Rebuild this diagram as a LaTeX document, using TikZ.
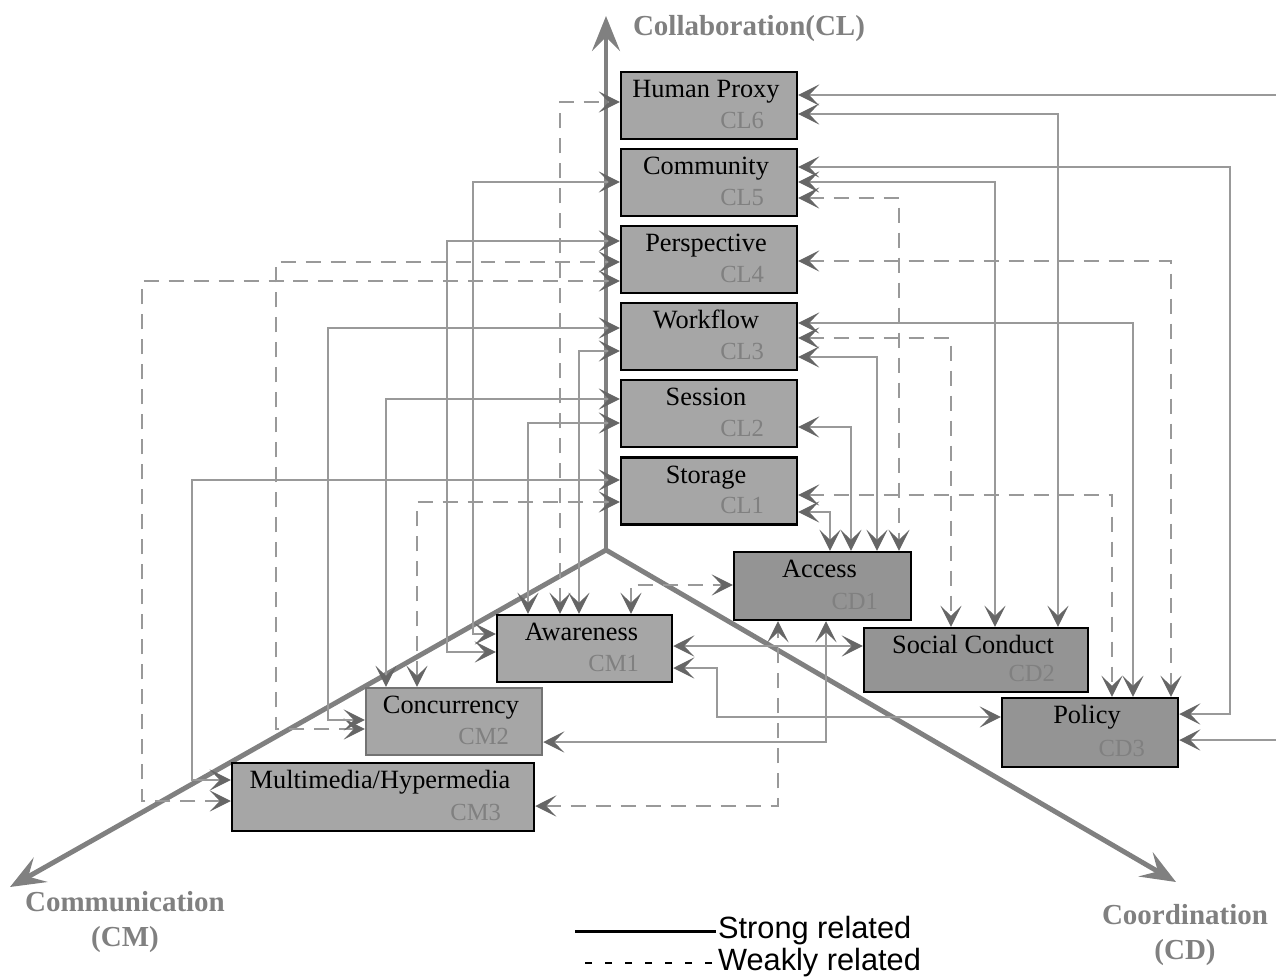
\documentclass[tikz,border=0pt]{standalone}
\usepackage{fontspec}
\setmainfont{Liberation Serif}
\newfontfamily\legfont{Liberation Sans}
\usetikzlibrary{arrows.meta,calc}
\definecolor{boxlt}{gray}{0.65}
\definecolor{boxdk}{gray}{0.58}
\definecolor{edgegr}{gray}{0.45}
\definecolor{lnk}{gray}{0.6}
\definecolor{tipgr}{gray}{0.4}
\definecolor{axgr}{gray}{0.5}
\definecolor{codegr}{gray}{0.5}

\tikzset{
	box/.style={draw, line width=1.4pt, inner sep=0pt},
	ttl/.style={anchor=base, font=\fontsize{15}{17}\selectfont},
	code/.style={anchor=base east, text=codegr, font=\fontsize{14}{16}\selectfont},
	axis/.style={draw=axgr, line width=2.8pt, -{Stealth[length=0.7cm,width=0.56cm,inset=0.28cm]}},
	axlbl/.style={text=axgr, align=center, font=\fontsize{16.5}{20}\selectfont\bfseries},
	link/.style={draw=lnk, line width=0.75pt, <->},
	weak/.style={link, dash pattern=on 0.3cm off 0.2cm},
	legend/.style={anchor=west, inner sep=1pt, font=\legfont\fontsize{17.5}{20}\selectfont}
}

\begin{document}
\begin{tikzpicture}[x=0.02cm, y=-0.02cm, >={Stealth[length=0.42cm,width=0.42cm,inset=0.2cm,color=tipgr]}]
	\useasboundingbox (0,0) rectangle (1276,978);
	\clip (0,0) rectangle (1276,978);
	\coordinate (o) at (606,550);
	\coordinate (clend) at (606,16);
	\coordinate (cmend) at (10,887);
	\coordinate (cdend) at (1176,882);
	\draw[axis] (o) -- (clend);
	\draw[axis] (o) -- (cmend);
	\draw[axis] (o) -- (cdend);
	\node[axlbl] (cllbl) at (749,29) {Collaboration(CL)};
	\node[axlbl] (cmlbl) at (125,922) {Communication\\(CM)};
	\node[axlbl] (cdlbl) at (1185,935) {Coordination\\(CD)};

	\foreach \i/\y/\t in {6/105.5/Human Proxy, 5/182.5/Community, 4/259.5/Perspective, 3/336.5/Workflow, 2/413.5/Session, 1/491/Storage} {
		\node[box, fill=boxlt, minimum width=3.52cm, minimum height=1.34cm] (cl\i) at (709,\y) {};
		\node[ttl] (cl\i-t) at ($(cl\i.north)+(-3,27)$) {\t};
		\node[code] (cl\i-c) at ($(cl\i.south east)+(-28,-12)$) {CL\i};
	}
	\foreach \n/\x/\y/\w/\h/\f/\d/\t/\c in {
		cm1/584.5/648.5/175/67/boxlt/black/Awareness/CM1,
		cm2/454/721.5/176/67/boxlt/edgegr/Concurrency/CM2,
		cm3/383/797/302/68/boxlt/black/{Multimedia/Hypermedia}/CM3,
		cd1/822.5/586/177/68/boxdk/black/Access/CD1,
		cd2/976/660/224/64/boxdk/black/Social Conduct/CD2,
		cd3/1090/732.5/176/69/boxdk/black/Policy/CD3} {
		\node[box, fill=\f, draw=\d, minimum width=\w*0.02cm, minimum height=\h*0.02cm] (\n) at (\x,\y) {};
		\node[ttl] (\n-t) at ($(\n.north)+(-3,27)$) {\t};
		\node[code] (\n-c) at ($(\n.south east)+(-28,-12)$) {\c};
	}

	\draw[weak] (560,0 |- cm1.north) |- (cl6.west |- 0,102);
	\draw[link] (cm1.west |- 0,634) -| (473,182) -- (cl5.west |- 0,182);
	\draw[link] (cm1.west |- 0,652) -| (447,241) -- (cl4.west |- 0,241);
	\draw[weak] (cm2.west |- 0,729) -| (276,262) -- (cl4.west |- 0,262);
	\draw[weak] (cm3.west |- 0,801) -| (142,281) -- (cl4.west |- 0,281);
	\draw[link] (cm2.west |- 0,720) -| (328,328) -- (cl3.west |- 0,328);
	\draw[link] (579,0 |- cm1.north) |- (cl3.west |- 0,351);
	\draw[link] (386,0 |- cm2.north) |- (cl2.west |- 0,399);
	\draw[link] (528,0 |- cm1.north) |- (cl2.west |- 0,423);
	\draw[link] (cm3.west |- 0,780) -| (192,480) -- (cl1.west |- 0,480);
	\draw[weak] (417,0 |- cm2.north) |- (cl1.west |- 0,502);
	\draw[weak] (631,0 |- cm1.north) |- (cd1.west |- 0,585);

	\draw[link] (cl6.east |- 0,95) -- (1300,95) |- (cd3.east |- 0,740);
	\draw[link] (cl6.east |- 0,114) -| (1058,0 |- cd2.north);
	\draw[link] (cl5.east |- 0,167) -| (1230,714) -- (cd3.east |- 0,714);
	\draw[link] (cl5.east |- 0,182) -| (995,0 |- cd2.north);
	\draw[weak] (cl5.east |- 0,198) -| (899,0 |- cd1.north);
	\draw[weak] (cl4.east |- 0,261) -| (1171,0 |- cd3.north);
	\draw[link] (cl3.east |- 0,323) -| (1133,0 |- cd3.north);
	\draw[weak] (cl3.east |- 0,338) -| (951,0 |- cd2.north);
	\draw[link] (cl3.east |- 0,357) -| (877,0 |- cd1.north);
	\draw[link] (cl2.east |- 0,427) -| (851,0 |- cd1.north);
	\draw[weak] (cl1.east |- 0,495) -| (1112,0 |- cd3.north);
	\draw[link] (cl1.east |- 0,512) -| (830,0 |- cd1.north);

	\draw[link] (cm1.east |- 0,646) -- (cd2.west |- 0,646);
	\draw[link] (cm1.east |- 0,668) -| (717,717) -- (cd3.west |- 0,717);
	\draw[link] (cm2.east |- 0,742) -| (826,0 |- cd1.south);
	\draw[weak] (cm3.east |- 0,806) -| (778,0 |- cd1.south);

	\node[legend] (strong) at (716,931) {Strong related};
	\node[legend] (weakly) at (716,963) {Weakly related};
	\draw[line width=1.7pt] (strong.west) -- ++(-141,0);
	\draw[line width=1pt, dash pattern=on 0.14cm off 0.26cm] ($(weakly.west)+(-4,0)$) -- ++(-137,0);
\end{tikzpicture}
\end{document}
